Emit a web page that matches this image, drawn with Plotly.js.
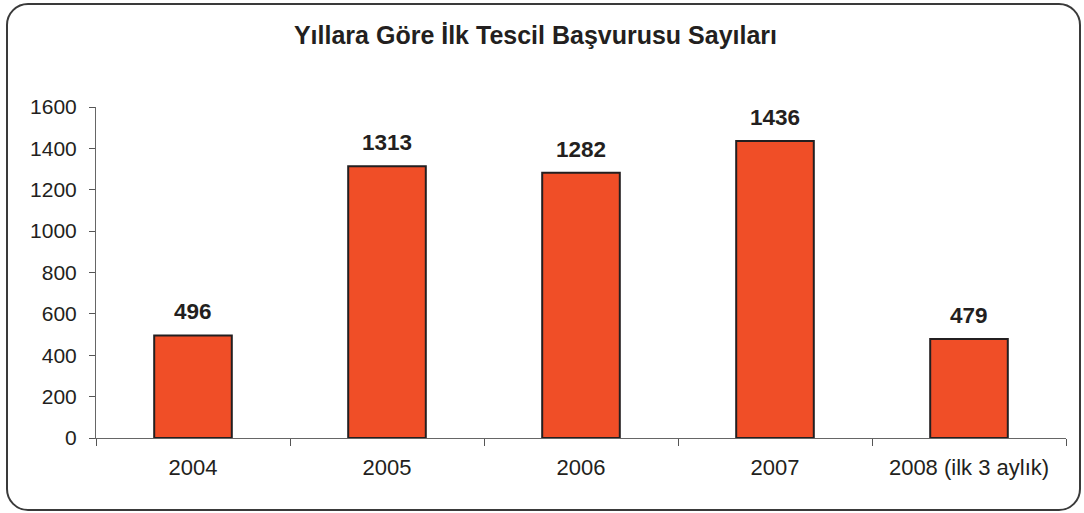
<!DOCTYPE html>
<html>
<head>
<meta charset="utf-8">
<script src="https://cdn.plot.ly/plotly-3.0.1.min.js"></script>
<style>
html,body{margin:0;padding:0;background:#fff;}
#wrap{position:relative;width:1084px;height:513px;}
#chart{position:absolute;left:0;top:0;width:1084px;height:513px;}
#frame{position:absolute;left:6px;top:3px;width:1071px;height:504px;border:2px solid #3a3a3a;border-radius:22px;pointer-events:none;}
</style>
</head>
<body>
<div id="wrap"><div id="chart"></div><div id="frame"></div></div>
<script>
const categories = ["2004", "2005", "2006", "2007", "2008 (ilk 3 aylık)"];
const values = [496, 1313, 1282, 1436, 479];
const yTicks = [0, 200, 400, 600, 800, 1000, 1200, 1400, 1600];
const titleText = "Yıllara Göre İlk Tescil Başvurusu Sayıları";

const font = "Liberation Sans, Arial, sans-serif";
const ink = "#231f20";

const trace = {
  type: "bar",
  x: categories,
  y: values,
  width: 0.4,
  marker: {color: "#f04e27", line: {color: ink, width: 2}},
  hoverinfo: "x+y"
};

const annotations = categories.map((c, i) => ({
  x: i, y: values[i], xref: "x", yref: "y",
  text: "<b>" + values[i] + "</b>", showarrow: false,
  yanchor: "bottom", yshift: 9,
  font: {family: font, size: 22.5, color: ink}
}));

const layout = {
  width: 1084, height: 513,
  margin: {l: 96, r: 18, t: 107, b: 75},
  paper_bgcolor: "rgba(0,0,0,0)",
  plot_bgcolor: "rgba(0,0,0,0)",
  showlegend: false,
  title: {text: "<b>" + titleText + "</b>", x: 0.494, xanchor: "center", y: 0.931, yanchor: "middle",
          font: {family: font, size: 25, color: ink}},
  xaxis: {
    type: "category",
    categoryorder: "array", categoryarray: categories,
    range: [-0.5, categories.length - 0.5],
    tickangle: 0,
    tickson: "boundaries",
    ticks: "outside", ticklen: 7, tickcolor: "#555", tickwidth: 1,
    showline: true, linecolor: "#666", linewidth: 1,
    tickfont: {family: font, size: 22, color: ink},
    ticklabelstandoff: 10,
    showgrid: false, zeroline: false
  },
  yaxis: {
    range: [0, 1600],
    tickvals: yTicks,
    ticktext: yTicks.map(String),
    ticks: "outside", ticklen: 6, tickcolor: "#555", tickwidth: 1,
    showline: true, linecolor: "#666", linewidth: 1,
    tickfont: {family: font, size: 21, color: ink},
    ticklabelstandoff: 8,
    showgrid: false, zeroline: false
  },
  annotations: annotations
};

Plotly.newPlot("chart", [trace], layout, {displayModeBar: false, staticPlot: true});
</script>
</body>
</html>
